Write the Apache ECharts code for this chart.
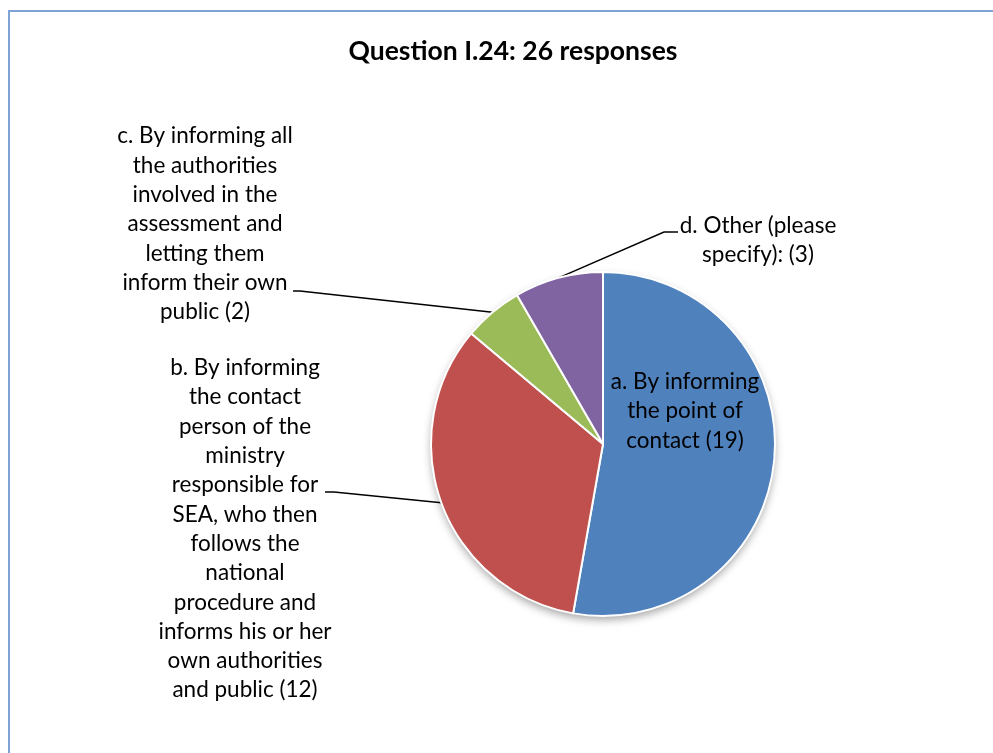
<!DOCTYPE html>
<html>
<head>
<meta charset="utf-8">
<script src="https://cdn.jsdelivr.net/npm/echarts@6/dist/echarts.min.js"></script>
<style>
  html, body { margin: 0; padding: 0; background: #fff; }
  #chart { width: 993px; height: 753px; }
</style>
</head>
<body>
<div id="chart"></div>
<script>
// answers (wrapped as in the original) and number of replies
var categories = [
  "a. By informing\nthe point of\ncontact",
  "b. By informing\nthe contact\nperson of the\nministry\nresponsible for\nSEA, who then\nfollows the\nnational\nprocedure and\ninforms his or her\nown authorities\nand public",
  "c. By informing all\nthe authorities\ninvolved in the\nassessment and\nletting them\ninform their own\npublic",
  "d. Other (please\nspecify):"
];
var counts = [19, 12, 2, 3];
var sliceColors = ["#4F81BD", "#C0504D", "#9BBB59", "#8064A2"];

// where each label sits, and where its leader meets the text
var labelSpots = [
  { x: 685, y: 411, line: null },
  { x: 245, y: 529, line: [[334, 492], [325, 492]] },
  { x: 205, y: 224, line: [[300, 291], [293, 291]] },
  { x: 758, y: 240, line: [[664, 232], [678, 232]] }
];

var fontName = "Lato, 'Open Sans', sans-serif";
var total = counts.reduce(function (s, v) { return s + v; }, 0);

var chart = echarts.init(document.getElementById("chart"));

var pieData = categories.map(function (name, i) {
  return {
    name: name,
    value: counts[i],
    itemStyle: { color: sliceColors[i] },
    labelLine: { show: labelSpots[i].line != null }
  };
});

var option = {
  animation: false,
  title: {
    text: "Question I.24: 26 responses",
    left: 508,
    top: 33,
    textAlign: "center",
    textStyle: { fontFamily: fontName, fontWeight: "bold", fontSize: 26.5, color: "#000" }
  },
  graphic: [
    {
      type: "rect",
      shape: { x: 9, y: 11, width: 1200, height: 1000 },
      style: { fill: null, stroke: "#7fa3d6", lineWidth: 2 },
      silent: true
    }
  ],
  series: [
    {
      // soft shadow under the pie
      type: "pie",
      silent: true,
      center: [603, 444],
      radius: 172,
      z: 1,
      label: { show: false },
      labelLine: { show: false },
      itemStyle: { color: "#ffffff", shadowBlur: 8, shadowOffsetY: 4, shadowColor: "rgba(0,0,0,0.35)" },
      data: [{ value: total }]
    },
    {
      type: "pie",
      center: [603, 444],
      radius: 172,
      startAngle: 90,
      clockwise: true,
      z: 2,
      avoidLabelOverlap: false,
      itemStyle: { borderColor: "#ffffff", borderWidth: 2 },
      label: {
        show: true,
        position: "outside",
        overflow: "none",
        formatter: "{b} ({c})",
        fontFamily: fontName,
        fontSize: 22.5,
        lineHeight: 29.3,
        color: "#000",
        align: "center"
      },
      labelLine: {
        show: true,
        lineStyle: { color: "#000", width: 1.5 }
      },
      labelLayout: function (params) {
        var spot = labelSpots[params.dataIndex];
        var out = { x: spot.x, y: spot.y, align: "center", verticalAlign: "middle" };
        if (spot.line && params.labelLinePoints) {
          out.labelLinePoints = [params.labelLinePoints[0], spot.line[0], spot.line[1]];
        }
        return out;
      },
      emphasis: { disabled: true },
      data: pieData
    }
  ]
};

chart.setOption(option);
</script>
</body>
</html>
